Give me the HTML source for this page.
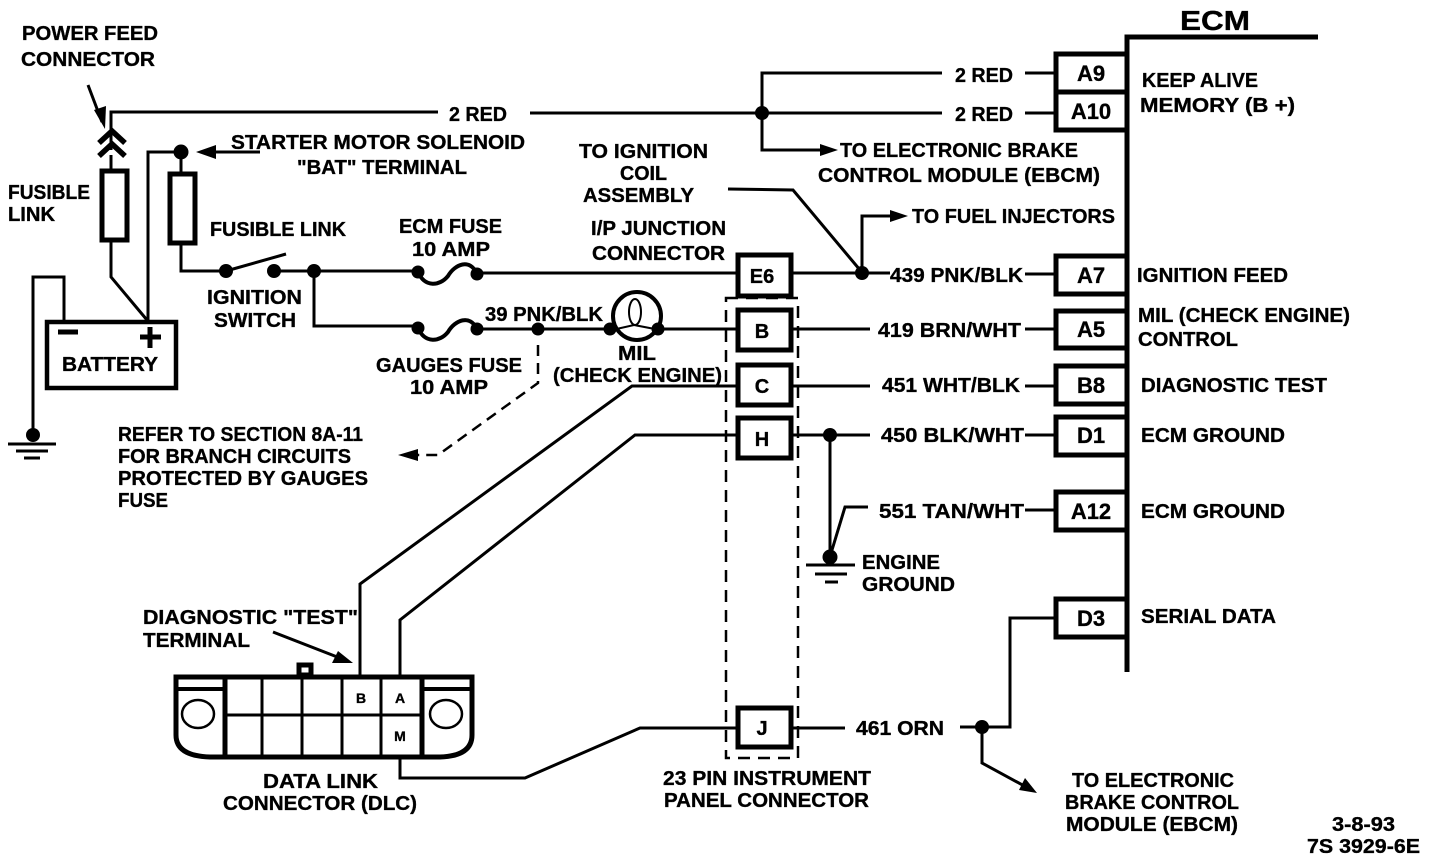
<!DOCTYPE html>
<html><head><meta charset="utf-8"><style>
html,body{margin:0;padding:0;background:#fff;width:1440px;height:860px;overflow:hidden}
svg{display:block}
text{font-family:"Liberation Sans",sans-serif;font-weight:bold;font-size:20px;fill:#000;stroke:#000;stroke-width:.35}
.w{fill:none;stroke:#000;stroke-width:3;stroke-linejoin:miter}
.b{fill:#fff;stroke:#000;stroke-width:5}
</style></head><body>
<svg width="1440" height="860" viewBox="0 0 1440 860" xmlns="http://www.w3.org/2000/svg">
<rect width="1440" height="860" fill="#fff"/>
<!-- ECM bar -->
<path d="M1127 672V37H1318" fill="none" stroke="#000" stroke-width="5"/>
<!-- wires -->
<g class="w">
<path d="M111 150V112H438M530 113H942M1025 113H1056M762 113V73H942M1025 73H1056M762 113V150H826"/>
<path d="M111 155V170M111 241V277L147 320M148 320V152H181M181 152V173M181 243V271H226M286 254L226 271M274 271H420M314 271V326H420"/>
<path d="M477 273H737M791 273H890M1025 274H1056M862 273V216H900M728 189L793 190L860 270"/>
<path d="M477 329H612M658 329H737M791 329H870M1025 329H1056"/>
<path d="M737 386H632L360 584V675M791 386H870M1025 386H1056"/>
<path d="M737 435H635L400 620V675M791 435H870M1025 435H1056M830 435V555M868 507H845L832 550M1025 510H1056"/>
<path d="M400 758V778H525L640 728H737M791 728H845M960 727H1010V618H1056M982 727V763L1028 788"/>
<path d="M64 320V277H33V435"/>
<path d="M88 85L102 122M273 632L345 660M260 152H205"/>
<path d="M8 444H56M16 451H48M24 458H40M806 565H855M815 574H847M825 582H838"/>
</g>
<path d="M538 345V383L438 455H412" fill="none" stroke="#000" stroke-width="2.5" stroke-dasharray="11 7"/>
<rect x="726" y="298" width="72" height="460" fill="none" stroke="#000" stroke-width="2.5" stroke-dasharray="12 8"/>
<!-- chevrons -->
<path d="M99 143L112 131L125 143M99 156L112 144L125 156" fill="none" stroke="#000" stroke-width="5.5"/>
<!-- fuses links -->
<rect x="102" y="171" width="25" height="69" fill="#fff" stroke="#000" stroke-width="5"/>
<rect x="170" y="174" width="25" height="69" fill="#fff" stroke="#000" stroke-width="5"/>
<!-- arrowheads -->
<g fill="#000">
<path d="M105 129L94 110L106 106Z"/>
<path d="M196 152L216 145V159Z"/>
<path d="M838 150L820 144V156Z"/>
<path d="M908 216L890 210V222Z"/>
<path d="M398 455L418 449V461Z"/>
<path d="M353 663L332 663L338 651Z"/>
<path d="M1037 793L1019 790L1025 778Z"/>
<circle cx="762" cy="113" r="7"/><circle cx="181" cy="152" r="7.5"/>
<circle cx="226" cy="271" r="7"/><circle cx="274" cy="271" r="7"/><circle cx="314" cy="271" r="7"/>
<circle cx="418" cy="272" r="6.5"/><circle cx="477" cy="274" r="6.5"/>
<circle cx="418" cy="328" r="6.5"/><circle cx="477" cy="329" r="6.5"/>
<circle cx="538" cy="329" r="6.5"/>
<circle cx="862" cy="273" r="7"/><circle cx="830" cy="435" r="7"/><circle cx="830" cy="557" r="7.5"/>
<circle cx="33" cy="435" r="7"/><circle cx="982" cy="727" r="7"/>
</g>
<!-- fuse curves -->
<path d="M418 272C425 288 440 286 448 276C455 264 470 258 477 274M418 328C425 344 440 342 448 332C455 320 470 314 477 329" fill="none" stroke="#000" stroke-width="4"/>
<!-- MIL -->
<circle cx="637" cy="316" r="24" fill="#fff" stroke="#000" stroke-width="4"/>
<ellipse cx="635" cy="312" rx="6" ry="13" fill="none" stroke="#000" stroke-width="2"/>
<path d="M612 330L634 325L660 330" fill="none" stroke="#000" stroke-width="2"/>
<circle cx="610" cy="329" r="6.5"/><circle cx="658" cy="329" r="6.5"/>
<!-- battery -->
<rect x="47" y="322" width="129" height="66" fill="#fff" stroke="#000" stroke-width="4.5"/>
<path d="M58 332H78M140 337H161M150 327V348" fill="none" stroke="#000" stroke-width="5"/>
<!-- connector boxes -->
<g class="b">
<rect x="1056" y="54" width="71" height="38"/><rect x="1056" y="92" width="71" height="38"/>
<rect x="1056" y="256" width="71" height="38"/><rect x="1056" y="311" width="71" height="37"/>
<rect x="1056" y="366" width="71" height="38"/><rect x="1056" y="417" width="71" height="38"/>
<rect x="1056" y="492" width="71" height="38"/><rect x="1056" y="599" width="71" height="38"/>
<rect x="738" y="255" width="53" height="41"/><rect x="738" y="310" width="53" height="40"/>
<rect x="738" y="365" width="53" height="40"/><rect x="738" y="418" width="53" height="40"/>
<rect x="738" y="708" width="53" height="39"/>
</g>
<!-- DLC -->
<path d="M176 677H472V735Q472 756 440 757H210Q176 756 176 735Z" fill="#fff" stroke="#000" stroke-width="5"/>
<rect x="299" y="665" width="12" height="10" fill="#fff" stroke="#000" stroke-width="5"/>
<path d="M262 677V757M302 677V757M342 677V757M381 677V757" stroke="#000" stroke-width="3" fill="none"/>
<path d="M225 677V757M422 677V757" stroke="#000" stroke-width="5" fill="none"/>
<path d="M225 715H422" stroke="#000" stroke-width="3" fill="none"/>
<path d="M176 689H225M422 689H472" stroke="#000" stroke-width="4" fill="none"/>
<ellipse cx="198" cy="714" rx="16" ry="14" fill="#fff" stroke="#000" stroke-width="2.5"/>
<ellipse cx="446" cy="714" rx="16" ry="14" fill="#fff" stroke="#000" stroke-width="2.5"/>
<!-- text -->
<g>
<text x="22" y="40" textLength="136" lengthAdjust="spacingAndGlyphs">POWER FEED</text>
<text x="21" y="66" textLength="134" lengthAdjust="spacingAndGlyphs">CONNECTOR</text>
<text x="449" y="121" textLength="58" lengthAdjust="spacingAndGlyphs">2 RED</text>
<text x="231" y="149" textLength="294" lengthAdjust="spacingAndGlyphs">STARTER MOTOR SOLENOID</text>
<text x="297" y="174" textLength="170" lengthAdjust="spacingAndGlyphs">"BAT" TERMINAL</text>
<text x="8" y="199" textLength="82" lengthAdjust="spacingAndGlyphs">FUSIBLE</text>
<text x="8" y="221" textLength="47" lengthAdjust="spacingAndGlyphs">LINK</text>
<text x="210" y="236" textLength="136" lengthAdjust="spacingAndGlyphs">FUSIBLE LINK</text>
<text x="399" y="233" textLength="103" lengthAdjust="spacingAndGlyphs">ECM FUSE</text>
<text x="412" y="256" textLength="78" lengthAdjust="spacingAndGlyphs">10 AMP</text>
<text x="579" y="158" textLength="129" lengthAdjust="spacingAndGlyphs">TO IGNITION</text>
<text x="620" y="180" textLength="47" lengthAdjust="spacingAndGlyphs">COIL</text>
<text x="583" y="202" textLength="111" lengthAdjust="spacingAndGlyphs">ASSEMBLY</text>
<text x="591" y="235" textLength="135" lengthAdjust="spacingAndGlyphs">I/P JUNCTION</text>
<text x="592" y="260" textLength="133" lengthAdjust="spacingAndGlyphs">CONNECTOR</text>
<text x="207" y="304" textLength="95" lengthAdjust="spacingAndGlyphs">IGNITION</text>
<text x="214" y="327" textLength="82" lengthAdjust="spacingAndGlyphs">SWITCH</text>
<text x="485" y="321" textLength="118" lengthAdjust="spacingAndGlyphs">39 PNK/BLK</text>
<text x="618" y="360" textLength="38" lengthAdjust="spacingAndGlyphs">MIL</text>
<text x="553" y="382" textLength="169" lengthAdjust="spacingAndGlyphs">(CHECK ENGINE)</text>
<text x="376" y="372" textLength="146" lengthAdjust="spacingAndGlyphs">GAUGES FUSE</text>
<text x="410" y="394" textLength="78" lengthAdjust="spacingAndGlyphs">10 AMP</text>
<text x="118" y="441" textLength="245" lengthAdjust="spacingAndGlyphs">REFER TO SECTION 8A-11</text>
<text x="118" y="463" textLength="233" lengthAdjust="spacingAndGlyphs">FOR BRANCH CIRCUITS</text>
<text x="118" y="485" textLength="250" lengthAdjust="spacingAndGlyphs">PROTECTED BY GAUGES</text>
<text x="118" y="507" textLength="50" lengthAdjust="spacingAndGlyphs">FUSE</text>
<text x="62" y="371" textLength="96" lengthAdjust="spacingAndGlyphs">BATTERY</text>
<text x="143" y="624" textLength="215" lengthAdjust="spacingAndGlyphs">DIAGNOSTIC "TEST"</text>
<text x="143" y="647" textLength="107" lengthAdjust="spacingAndGlyphs">TERMINAL</text>
<text x="263" y="788" textLength="115" lengthAdjust="spacingAndGlyphs">DATA LINK</text>
<text x="223" y="810" textLength="194" lengthAdjust="spacingAndGlyphs">CONNECTOR (DLC)</text>
<text x="663" y="785" textLength="208" lengthAdjust="spacingAndGlyphs">23 PIN INSTRUMENT</text>
<text x="664" y="807" textLength="205" lengthAdjust="spacingAndGlyphs">PANEL CONNECTOR</text>
<text x="856" y="735" textLength="88" lengthAdjust="spacingAndGlyphs">461 ORN</text>
<text x="1072" y="787" textLength="162" lengthAdjust="spacingAndGlyphs">TO ELECTRONIC</text>
<text x="1065" y="809" textLength="174" lengthAdjust="spacingAndGlyphs">BRAKE CONTROL</text>
<text x="1066" y="831" textLength="172" lengthAdjust="spacingAndGlyphs">MODULE (EBCM)</text>
<text x="1332" y="831" textLength="63" lengthAdjust="spacingAndGlyphs">3-8-93</text>
<text x="1307" y="853" textLength="113" lengthAdjust="spacingAndGlyphs">7S 3929-6E</text>
<text x="1180" y="30" textLength="70" lengthAdjust="spacingAndGlyphs" style="font-size:28px">ECM</text>
<text x="955" y="82" textLength="58" lengthAdjust="spacingAndGlyphs">2 RED</text>
<text x="955" y="121" textLength="58" lengthAdjust="spacingAndGlyphs">2 RED</text>
<text x="840" y="157" textLength="238" lengthAdjust="spacingAndGlyphs">TO ELECTRONIC BRAKE</text>
<text x="818" y="182" textLength="282" lengthAdjust="spacingAndGlyphs">CONTROL MODULE (EBCM)</text>
<text x="912" y="223" textLength="203" lengthAdjust="spacingAndGlyphs">TO FUEL INJECTORS</text>
<text x="890" y="282" textLength="133" lengthAdjust="spacingAndGlyphs">439 PNK/BLK</text>
<text x="878" y="337" textLength="143" lengthAdjust="spacingAndGlyphs">419 BRN/WHT</text>
<text x="882" y="392" textLength="138" lengthAdjust="spacingAndGlyphs">451 WHT/BLK</text>
<text x="881" y="442" textLength="143" lengthAdjust="spacingAndGlyphs">450 BLK/WHT</text>
<text x="879" y="518" textLength="145" lengthAdjust="spacingAndGlyphs">551 TAN/WHT</text>
<text x="862" y="569" textLength="78" lengthAdjust="spacingAndGlyphs">ENGINE</text>
<text x="862" y="591" textLength="93" lengthAdjust="spacingAndGlyphs">GROUND</text>
<text x="1142" y="87" textLength="116" lengthAdjust="spacingAndGlyphs">KEEP ALIVE</text>
<text x="1140" y="112" textLength="155" lengthAdjust="spacingAndGlyphs">MEMORY (B +)</text>
<text x="1137" y="282" textLength="151" lengthAdjust="spacingAndGlyphs">IGNITION FEED</text>
<text x="1138" y="322" textLength="212" lengthAdjust="spacingAndGlyphs">MIL (CHECK ENGINE)</text>
<text x="1138" y="346" textLength="100" lengthAdjust="spacingAndGlyphs">CONTROL</text>
<text x="1141" y="392" textLength="186" lengthAdjust="spacingAndGlyphs">DIAGNOSTIC TEST</text>
<text x="1141" y="442" textLength="144" lengthAdjust="spacingAndGlyphs">ECM GROUND</text>
<text x="1141" y="518" textLength="144" lengthAdjust="spacingAndGlyphs">ECM GROUND</text>
<text x="1141" y="623" textLength="135" lengthAdjust="spacingAndGlyphs">SERIAL DATA</text>
</g>
<g text-anchor="middle" style="font-size:22px">
<text x="1091" y="81" style="font-size:22px">A9</text><text x="1091" y="119" style="font-size:22px">A10</text><text x="1091" y="283" style="font-size:22px">A7</text>
<text x="1091" y="337" style="font-size:22px">A5</text><text x="1091" y="393" style="font-size:22px">B8</text><text x="1091" y="443" style="font-size:22px">D1</text>
<text x="1091" y="519" style="font-size:22px">A12</text><text x="1091" y="626" style="font-size:22px">D3</text>
<text x="762" y="283">E6</text><text x="762" y="338">B</text><text x="762" y="393">C</text>
<text x="762" y="446">H</text><text x="762" y="735">J</text>
<text x="361" y="703" style="font-size:14px">B</text>
<text x="400" y="703" style="font-size:14px">A</text>
<text x="400" y="741" style="font-size:14px">M</text>
</g>
</svg>
</body></html>
